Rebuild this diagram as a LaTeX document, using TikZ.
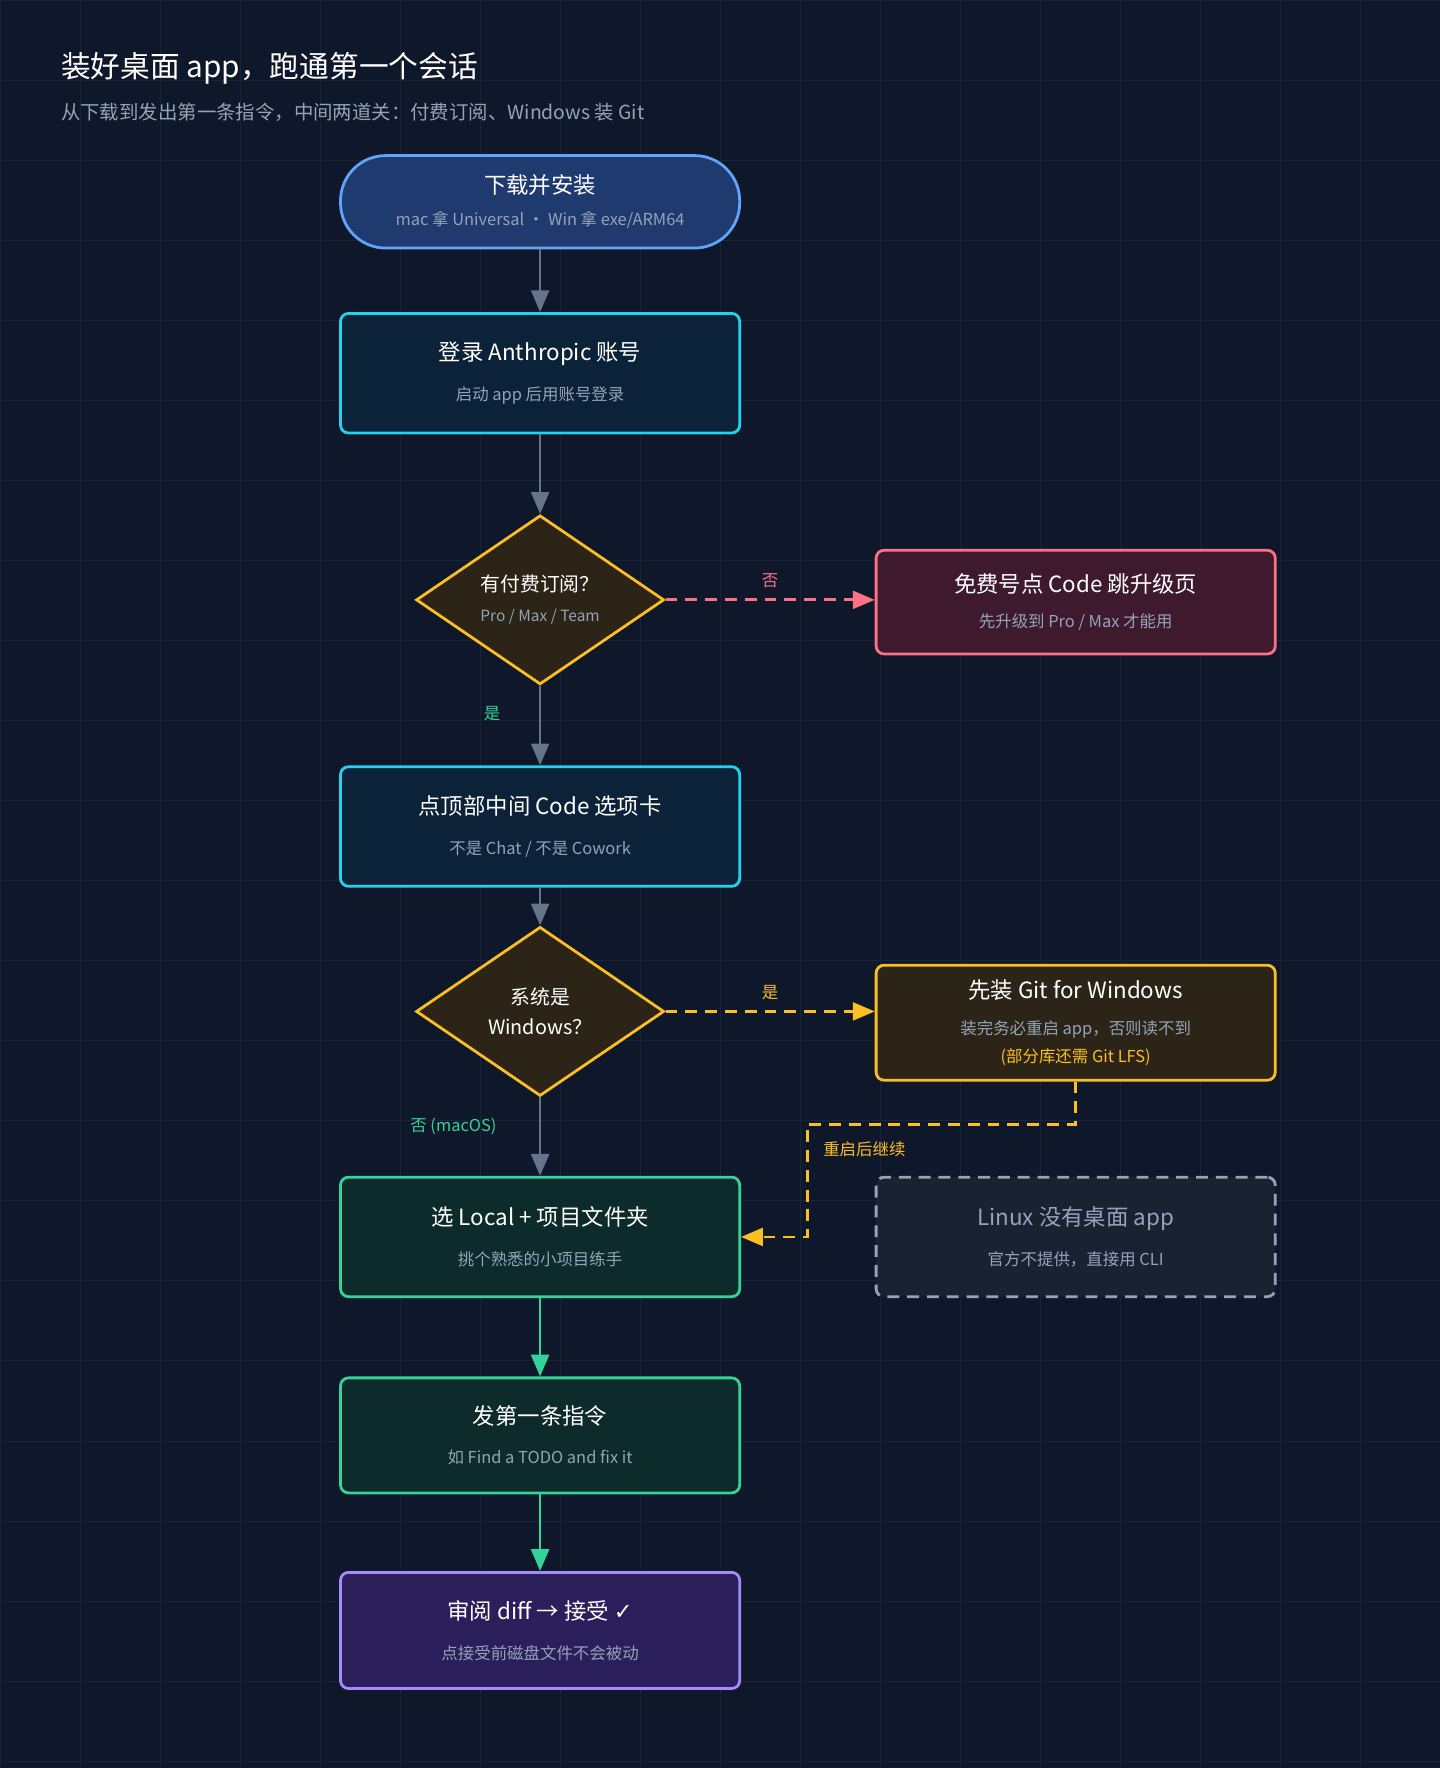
\documentclass[tikz,border=0pt]{standalone}
\usepackage{fontspec}
\setmainfont{Noto Sans CJK SC}
\newfontfamily\symfont{DejaVu Sans}
\usetikzlibrary{arrows.meta,shapes.geometric,positioning}
\definecolor{bgc}{HTML}{0F172A}
\definecolor{gridc}{HTML}{1A2438}
\definecolor{edgec}{HTML}{64748B}
\definecolor{subc}{HTML}{94A3B8}
\definecolor{bluef}{HTML}{1E3A6E}\definecolor{bluel}{HTML}{60A5FA}
\definecolor{cyanf}{HTML}{0C2238}\definecolor{cyanl}{HTML}{22D3EE}
\definecolor{yelf}{HTML}{2D2418}\definecolor{yell}{HTML}{FBBF24}
\definecolor{pinkf}{HTML}{3F1A2E}\definecolor{pinkl}{HTML}{FB7185}
\definecolor{grnf}{HTML}{0D2B2B}\definecolor{grnl}{HTML}{34D399}
\definecolor{grayf}{HTML}{1A2232}
\definecolor{purf}{HTML}{2A1F5A}\definecolor{purl}{HTML}{A78BFA}
\newcommand{\px}{*0.02cm}
\newcommand{\subtxt}{\fontsize{8.3}{12}\selectfont\color{subc}}
\tikzset{
  box/.style={draw, line width=1.4pt, rounded corners=4pt, minimum width=354\px, minimum height=104\px, align=center, text=white, font=\fontsize{11.3}{15}\selectfont},
  dia/.style={draw, line width=1.4pt, diamond, aspect=1.47, minimum width=220\px, minimum height=150\px, inner sep=0pt, align=center, text=white, font=\fontsize{10}{15}\selectfont},
  arr/.style={draw=edgec, line width=1.4pt, -{Triangle[length=11pt,width=9pt]}},
  lbl/.style={font=\fontsize{8.3}{10}\selectfont},
}
\begin{document}
\begin{tikzpicture}[x=0.02cm,y=-0.02cm]
    \fill[bgc] (0,0) rectangle (1277,1568);
    \useasboundingbox (0,0) rectangle (1277,1568);
    \foreach \g in {0,71,...,1277} \draw[gridc,line width=0.5pt] (\g,0) -- (\g,1568);
    \foreach \g in {0,71,...,1568} \draw[gridc,line width=0.5pt] (0,\g) -- (1277,\g);
    % title
    \node[anchor=west, text=white, font=\fontsize{15}{16}\selectfont] (title) at (48,61) {装好桌面 app，跑通第一个会话};
    \node[anchor=west, text=subc, font=\fontsize{9.8}{12}\selectfont] (subtitle) at (48,100) {从下载到发出第一条指令，中间两道关：付费订阅、Windows 装 Git};
    % nodes
    \node[box, rounded corners=40\px, minimum height=82\px, fill=bluef, draw=bluel] (install) at (479,179) {下载并安装\\[1pt] {\subtxt mac 拿 Universal · Win 拿 exe/ARM64}};
    \node[box, fill=cyanf, draw=cyanl, minimum height=106\px] (login) at (479,331) {登录 Anthropic 账号\\[5pt] {\subtxt 启动 app 后用账号登录}};
    \node[dia, fill=yelf, draw=yell] (paid) at (479,532) {有付费订阅？\\[0pt] {\subtxt\fontsize{7.8}{10}\selectfont Pro / Max / Team}};
    \node[box, fill=pinkf, draw=pinkl, minimum height=92\px] (free) at (954,534) {免费号点 Code 跳升级页\\[3pt] {\subtxt 先升级到 Pro / Max 才能用}};
    \node[box, fill=cyanf, draw=cyanl, minimum height=106\px] (code) at (479,733) {点顶部中间 Code 选项卡\\[5pt] {\subtxt 不是 Chat / 不是 Cowork}};
    \node[dia, fill=yelf, draw=yell] (win) at (479,897) {系统是\\Windows？};
    \node[box, fill=yelf, draw=yell, minimum height=102\px] (git) at (954,907) {先装 Git for Windows\\[3pt] {\subtxt 装完务必重启 app，否则读不到}\\[-1pt] {\subtxt\color{yell} (部分库还需 Git LFS)}};
    \node[box, fill=grnf, draw=grnl, minimum height=106\px] (local) at (479,1097) {选 Local + 项目文件夹\\[5pt] {\subtxt 挑个熟悉的小项目练手}};
    \node[box, fill=grayf, draw=subc, dashed, dash pattern=on 6pt off 4pt, minimum height=106\px, text=subc] (linux) at (954,1097) {Linux 没有桌面 app\\[5pt] {\subtxt 官方不提供，直接用 CLI}};
    \node[box, fill=grnf, draw=grnl, minimum height=102\px] (send) at (479,1273) {发第一条指令\\[5pt] {\subtxt 如 Find a TODO and fix it}};
    \node[box, fill=purf, draw=purl, minimum height=103\px] (review) at (479,1446) {审阅 diff → 接受 {\symfont ✓}\\[5pt] {\subtxt 点接受前磁盘文件不会被动}};
    % connectors
    \draw[arr] (install) -- (login);
    \draw[arr] (login) -- (paid);
    \draw[arr, draw=pinkl, dashed, dash pattern=on 6pt off 4pt, -{Triangle[length=11pt,width=9pt,fill=pinkl]}] (paid) -- node[lbl, text=pinkl, above=2pt] {否} (paid.east -| free.west);
    \draw[arr] (paid) -- node[lbl, text=grnl, left=16pt, pos=0.35] {是} (code);
    \draw[arr] (code) -- (win);
    \draw[arr, draw=yell, dashed, dash pattern=on 6pt off 4pt, -{Triangle[length=11pt,width=9pt,fill=yell]}] (win) -- node[lbl, text=yell, above=2pt] {是} (win.east -| git.west);
    \draw[arr] (win) -- node[lbl, text=grnl, left=18pt, pos=0.37] {否 (macOS)} (local);
    \coordinate (bendA) at (954,997);
    \coordinate (bendB) at (716,997);
    \coordinate (bendC) at (716,1097);
    \draw[arr, draw=yell, dashed, dash pattern=on 6pt off 4pt, -{Triangle[length=11pt,width=9pt,fill=yell]}] (git.south -| bendA) -- (bendA) -- (bendB) -- node[lbl, text=yell, right=4pt, pos=0.22] {重启后继续} (bendC) -- (local);
    \draw[arr, draw=grnl, -{Triangle[length=11pt,width=9pt,fill=grnl]}] (local) -- (send);
    \draw[arr, draw=grnl, -{Triangle[length=11pt,width=9pt,fill=grnl]}] (send) -- (review);
\end{tikzpicture}
\end{document}
